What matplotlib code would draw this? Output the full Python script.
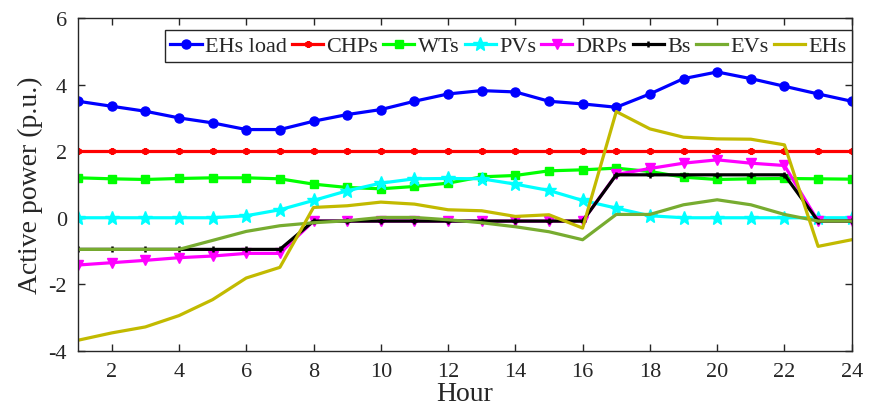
import matplotlib.pyplot as plt
import numpy as np

plt.rcParams['font.family'] = ['Liberation Serif', 'DejaVu Serif']
plt.rcParams['axes.unicode_minus'] = False

hours = np.arange(1, 25)

ehs_load = [3.5, 3.35, 3.2, 3.0, 2.85, 2.65, 2.65, 2.9, 3.1, 3.25, 3.5, 3.72,
            3.82, 3.78, 3.5, 3.42, 3.32, 3.72, 4.18, 4.38, 4.18, 3.95, 3.72, 3.5]
chps = [2.0] * 24
wts = [1.2, 1.17, 1.15, 1.18, 1.2, 1.2, 1.17, 1.01, 0.91, 0.87, 0.94, 1.04,
       1.23, 1.27, 1.41, 1.44, 1.49, 1.39, 1.22, 1.15, 1.17, 1.18, 1.17, 1.16]
pvs = [0.0, 0.0, 0.0, 0.0, 0.0, 0.06, 0.24, 0.52, 0.81, 1.04, 1.17, 1.18,
       1.17, 1.01, 0.82, 0.52, 0.29, 0.06, 0.0, 0.0, 0.0, 0.0, 0.0, 0.0]
drps = [-1.42, -1.35, -1.28, -1.2, -1.15, -1.07, -1.07, -0.1, -0.1, -0.1, -0.1, -0.1,
        -0.1, -0.1, -0.1, -0.1, 1.3, 1.48, 1.64, 1.74, 1.64, 1.57, -0.1, -0.1]
bs = [-0.95, -0.95, -0.95, -0.95, -0.95, -0.95, -0.95, -0.1, -0.1, -0.1, -0.1, -0.1,
      -0.1, -0.1, -0.1, -0.1, 1.29, 1.29, 1.29, 1.29, 1.29, 1.29, -0.1, -0.1]
evs = [-0.95, -0.95, -0.95, -0.95, -0.68, -0.41, -0.24, -0.15, -0.09, 0.01, 0.01, -0.06,
       -0.15, -0.27, -0.42, -0.66, 0.1, 0.1, 0.39, 0.54, 0.39, 0.1, -0.1, -0.1]
ehs = [-3.68, -3.46, -3.28, -2.94, -2.46, -1.81, -1.49, 0.31, 0.36, 0.47, 0.41, 0.24,
       0.21, 0.04, 0.09, -0.31, 3.19, 2.67, 2.42, 2.37, 2.36, 2.19, -0.86, -0.66]

fig = plt.figure(figsize=(8.7, 4.14), dpi=100)
ax = fig.add_axes([0.0897, 0.15, 0.8893, 0.804])

lw = 2.3
ax.plot(hours, ehs_load, color='#0000FF', marker='o', markersize=6.5, lw=lw, label='EHs load')
ax.plot(hours, chps, color='#FF0000', marker=(6, 2, 0), markersize=5, mew=1.8, lw=lw, label='CHPs')
ax.plot(hours, wts, color='#00FF00', marker='s', markersize=6, lw=lw, label='WTs')
ax.plot(hours, pvs, color='#00FFFF', marker='*', markersize=10, lw=lw, label='PVs')
ax.plot(hours, drps, color='#FF00FF', marker='v', markersize=7.5, lw=lw, label='DRPs')
ax.plot(hours, bs, color='#000000', marker='+', markersize=5, mew=1.8, lw=lw, label='Bs')
ax.plot(hours, evs, color='#77AC30', lw=lw, label='EVs')
ax.plot(hours, ehs, color='#C2BA00', lw=lw, label='EHs')

ax.set_xlim(1, 24)
ax.set_ylim(-4, 6)
ax.set_xticks(np.arange(2, 25, 2))
ax.set_yticks(np.arange(-4, 7, 2))
ax.tick_params(direction='in', top=True, right=True, labelsize=16, length=5, width=1, pad=8,
               colors='#262626')
ax.set_xlabel('Hour', fontsize=20, labelpad=0, color='#262626')
ax.set_ylabel('Active power (p.u.)', fontsize=20, labelpad=4, color='#262626')
for s in ax.spines.values():
    s.set_linewidth(1)
    s.set_color('#262626')

leg = ax.legend(loc='upper right', bbox_to_anchor=(1.003, 0.97), ncol=8, fontsize=16,
                handlelength=1.4, handletextpad=0.15, columnspacing=0.235,
                borderpad=0.25, borderaxespad=0.1, fancybox=False, framealpha=1)
leg.get_frame().set_edgecolor('#262626')
leg.get_frame().set_linewidth(1)
for t in leg.get_texts():
    t.set_color('#262626')

fig.savefig('out.png', dpi=100)
